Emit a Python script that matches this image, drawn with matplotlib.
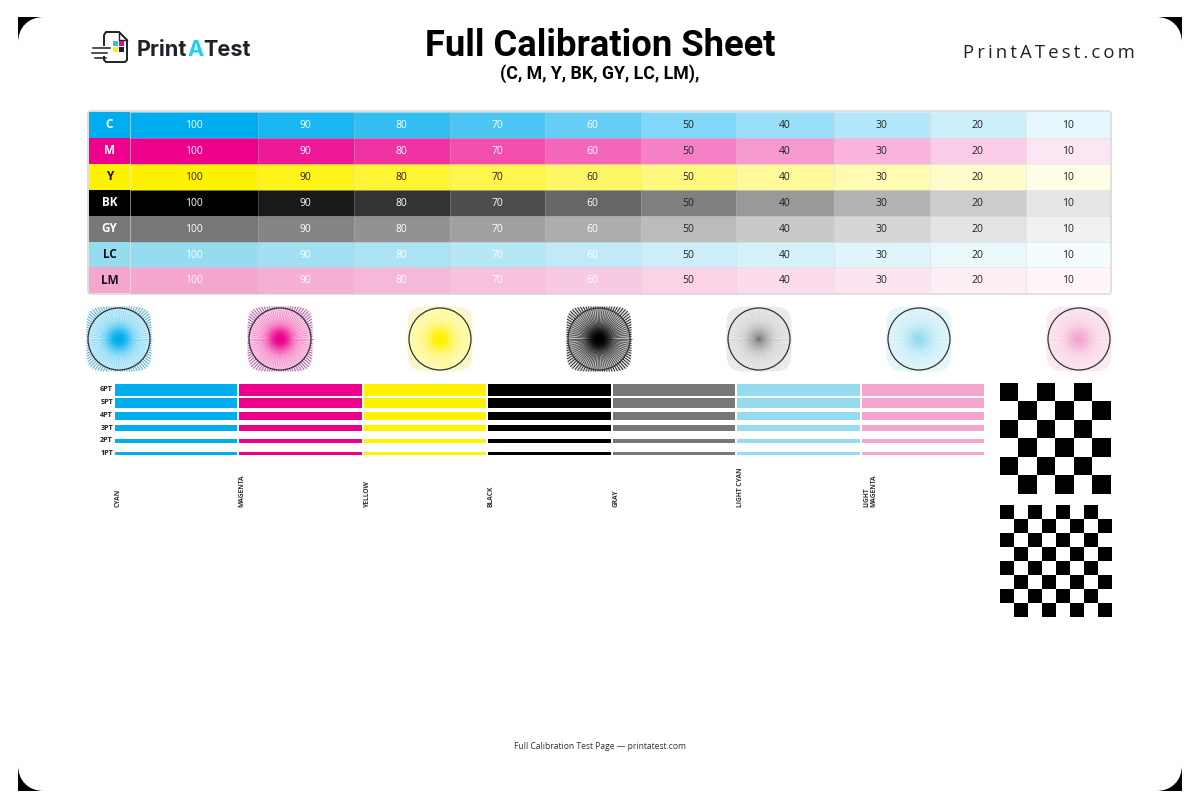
import numpy as np
import matplotlib
matplotlib.use("Agg")
import matplotlib.pyplot as plt
from matplotlib.colors import to_rgb, LinearSegmentedColormap
from matplotlib.patches import Rectangle, FancyBboxPatch, PathPatch, Circle
from matplotlib.path import Path

# data
row_labels = ["C", "M", "Y", "BK", "GY", "LC", "LM"]
row_colors = ["#00aeef", "#ec008c", "#fff200", "#000000", "#777777", "#96dcf1", "#f4a6cf"]
tints = [100, 90, 80, 70, 60, 50, 40, 30, 20, 10]
pt_labels = ["6PT", "5PT", "4PT", "3PT", "2PT", "1PT"]
strip_names = ["CYAN", "MAGENTA", "YELLOW", "BLACK", "GRAY", "LIGHT CYAN", "LIGHT\nMAGENTA"]
logo_parts = ["Print", "A", "Test"]
logo_colors = ["#1d2229", "#1fd0f0", "#1d2229"]

# spokes outside the ring, and how strongly they print
spoke_colors = ["#2f8fc0", "#8c2f7e", "#e9e27a", "#000000", "#c4c4c4", "#b4e2ef", "#f2c0da"]
spoke_alpha = [.8, .8, .6, .9, .6, .6, .6]
inner_alpha = [.4, .4, .4, .75, .25, .4, .4]
wash = [18, 18, 22, 26, 14, 24, 22]
glow_peak = [1, 1, 1, 1, .5, .8, .8]

# layout, in pixels of the page
col_edges = [89, 130, 258, 354, 450, 545, 641, 736, 834, 930, 1026, 1110]
row_edges = [112, 138, 164, 190, 216, 242, 267, 293]
star_x = [119, 280, 440, 599, 759, 919, 1079]
star_y = 339
bar_edges = [115, 239, 364, 488, 613, 737, 862, 986.5]
bar_tops = [384, 398, 411.5, 425, 439, 452]
bar_bottoms = [395.5, 407.5, 420, 431, 443, 454.5]
name_x = [118, 242, 367, 491, 616, 740, 870]
name_y = 507


def tint(color, pct):
    c = np.array(to_rgb(color))
    return tuple(1 - (1 - c) * pct / 100)


fig = plt.figure(figsize=(12, 8), dpi=100)
ax = fig.add_axes([0, 0, 1, 1])
ax.axis("off")
ax.set_xlim(0, 1200)
ax.set_ylim(800, 0)

# black page corners
for cx, cy, sx, sy in [(18, 17, 1, 1), (1182, 17, -1, 1), (18, 791, 1, -1), (1182, 791, -1, -1)]:
    r = 26
    verts = [(cx, cy), (cx + sx * r, cy), (cx + sx * r * .4, cy), (cx, cy + sy * r * .4),
             (cx, cy + sy * r), (cx, cy)]
    codes = [Path.MOVETO, Path.LINETO, Path.CURVE4, Path.CURVE4, Path.CURVE4, Path.CLOSEPOLY]
    ax.add_patch(PathPatch(Path(verts, codes), fc="k", ec="none"))

# header
ax.text(600, 46, "Full Calibration Sheet", ha="center", va="center", fontsize=26.2,
        fontweight="bold", family="Roboto")
ax.text(600, 74, "(C, M, Y, BK, GY, LC, LM),", ha="center", va="center", fontsize=12.8,
        fontweight="bold", family="Roboto")
ax.text(1049, 53, "\u2009".join("PrintATest.com"), ha="center", va="center", fontsize=13.3,
        family=["Open Sans", "DejaVu Sans"], color="#222222")

# logo
renderer = fig.canvas.get_renderer()
x = 137
for part, c in zip(logo_parts, logo_colors):
    t = ax.text(x, 50, part, ha="left", va="center", fontsize=15.6, fontweight="bold",
                family="Inter", color=c)
    bb = t.get_window_extent(renderer).transformed(ax.transData.inverted())
    x = max(bb.x0, bb.x1)
# page outline with the folded corner, open where the speed lines enter
ax.plot([104, 104, 106, 119, 127, 127, 125, 106, 104, 104],
        [45, 35, 32, 32, 40, 60, 62, 62, 60, 57], color="#1d2229", lw=1.4)
ax.plot([119, 119, 127], [32, 40, 40], color="#1d2229", lw=1)
for y0, x0, x1 in [(48, 93, 110), (53, 92, 107), (58, 95, 106)]:
    ax.plot([x0, x1], [y0, y0], color="#1d2229", lw=1.1)
for x0, y0, c in [(113, 41, "#22c4e8"), (119, 41, "#ec008c"), (113, 47, "#fff200"), (119, 47, "#222222")]:
    ax.add_patch(Rectangle((x0, y0), 5, 5, fc=c, ec="none"))

# table
ax.add_patch(FancyBboxPatch((col_edges[0], row_edges[0]), col_edges[-1] - col_edges[0],
                            row_edges[-1] - row_edges[0], boxstyle="round,pad=1,rounding_size=3",
                            fc="#ffffff", ec="#d5dadd", lw=1.2, zorder=1))
for i, (lab, col) in enumerate(zip(row_labels, row_colors)):
    y0, y1 = row_edges[i], row_edges[i + 1]
    ym = (y0 + y1) / 2
    ax.add_patch(Rectangle((col_edges[0], y0), col_edges[1] - col_edges[0], y1 - y0,
                           fc=col, ec="none", zorder=2))
    dark_label = lab in ("Y", "LC", "LM")
    ax.text((col_edges[0] + col_edges[1]) / 2, ym, lab, ha="center", va="center", fontsize=8.5,
            fontweight="bold", family="Open Sans", color="#111111" if dark_label else "white", zorder=4)
    for j, t in enumerate(tints):
        x0, x1 = col_edges[j + 1], col_edges[j + 2]
        ax.add_patch(Rectangle((x0, y0), x1 - x0, y1 - y0, fc=tint(col, t),
                               ec=(0, 0, 0, .04), lw=.6, zorder=2))
        txt = "#222222" if (lab == "Y" or t <= 50) else "white"
        ax.text((x0 + x1) / 2 - .5, ym + .5, str(t), ha="center", va="center", fontsize=7.5,
                family="Open Sans", fontweight="medium", color=txt, zorder=4)

# star targets
ang = np.deg2rad(np.arange(0, 360, 4.0))
fine = np.linspace(0, 2 * np.pi, 361)
n = 5
ring = 31
half = 32.5
xx, yy = np.meshgrid(np.linspace(-1, 1, 65), np.linspace(-1, 1, 65))
glow = np.exp(-(xx ** 2 + yy ** 2) / .14)
glow[xx ** 2 + yy ** 2 > 1] = 0
for k, (x0, col, lab, sc) in enumerate(zip(star_x, row_colors, row_labels, spoke_colors)):
    w = wash[k]
    # rounded square the spokes run to
    rf = half / (np.abs(np.cos(fine)) ** n + np.abs(np.sin(fine)) ** n) ** (1 / n)
    ax.fill(x0 + rf * np.cos(fine), star_y + rf * np.sin(fine), color=tint(col, w * .5), lw=0, zorder=1)
    ax.add_patch(Circle((x0, star_y), ring, fc=tint(col, w), ec="none", zorder=1))
    rr = half / (np.abs(np.cos(ang)) ** n + np.abs(np.sin(ang)) ** n) ** (1 / n)
    for a, r in zip(ang, rr):
        ca, sn = np.cos(a), np.sin(a)
        ax.plot([x0 + ring * ca, x0 + r * ca], [star_y + ring * sn, star_y + r * sn], color=sc,
                lw=.6, alpha=spoke_alpha[k], zorder=2, solid_capstyle="butt")
        ax.plot([x0, x0 + ring * ca], [star_y, star_y + ring * sn], color=col,
                lw=.45, alpha=inner_alpha[k], zorder=2, solid_capstyle="butt")
    # soft centre
    cmap = LinearSegmentedColormap.from_list("s", [tint(col, 100) + (0,), tint(col, 100) + (1,)])
    ax.imshow(glow * glow_peak[k], extent=[x0 - ring, x0 + ring, star_y + ring, star_y - ring], cmap=cmap,
              vmin=0, vmax=1, zorder=3, interpolation="bilinear", aspect="auto")
    ax.add_patch(Circle((x0, star_y), ring, fc="none", ec="#333333", lw=.9, zorder=4))

# line weight strips
for top, bot, lab in zip(bar_tops, bar_bottoms, pt_labels):
    ax.text(113, (top + bot) / 2, lab, ha="right", va="center", fontsize=5.2, fontweight="bold",
            family="Open Sans", color="#222222")
    for k, col in enumerate(row_colors):
        ax.add_patch(Rectangle((bar_edges[k], top), bar_edges[k + 1] - bar_edges[k] - 2.5, bot - top,
                               fc=col, ec="none"))
for x0, name in zip(name_x, strip_names):
    ax.text(x0, name_y, name, rotation=90, ha="center", va="bottom",
            fontsize=4.8, fontweight="bold", family="Open Sans", color="#333333",
            linespacing=1.0, multialignment="left")

# checker boards
for x0, y0, cell, cells in [(1000, 383.5, 18.5, 6), (1000, 506, 13.9, 8)]:
    board = (np.indices((cells, cells)).sum(axis=0) % 2 == 0).astype(float)
    ax.imshow(board, extent=[x0, x0 + cells * cell, y0 + cells * cell, y0], cmap="gray_r", vmin=0, vmax=1,
              interpolation="nearest", aspect="auto", zorder=2)

ax.text(599.5, 746.5, "Full Calibration Test Page \u2014 printatest.com", ha="center", va="center",
        fontsize=6.15, family="Open Sans", color="#333333")

ax.set_xlim(0, 1200)
ax.set_ylim(800, 0)
fig.savefig("out.png", dpi=100)
